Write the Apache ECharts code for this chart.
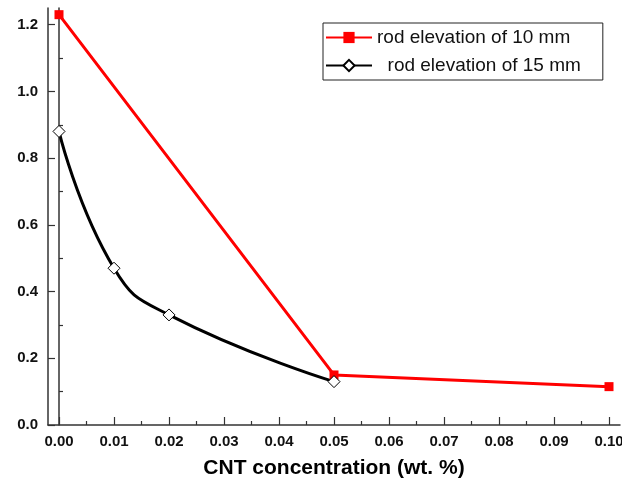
<!DOCTYPE html>
<html>
<head>
<meta charset="utf-8">
<script src="https://cdn.jsdelivr.net/npm/echarts@6/dist/echarts.min.js"></script>
<style>
  html, body { margin: 0; padding: 0; background: #fff; }
  #main { width: 622px; height: 481px; }
</style>
</head>
<body>
<div id="main"></div>
<script>
// x: CNT concentration, y: value for each rod elevation
var x_10mm = [0, 0.05, 0.10];
var y_10mm = [1.23, 0.15, 0.115];
var x_15mm = [0, 0.01, 0.02, 0.05];
var y_15mm = [0.88, 0.47, 0.33, 0.13];

var names = ['rod elevation of 10 mm', '  rod elevation of 15 mm'];

// tick labels
var x_ticks = [0, 0.01, 0.02, 0.03, 0.04, 0.05, 0.06, 0.07, 0.08, 0.09, 0.10];
var x_minor = [0.005, 0.015, 0.025, 0.035, 0.045, 0.055, 0.065, 0.075, 0.085, 0.095];
var y_ticks = [0, 0.2, 0.4, 0.6, 0.8, 1.0, 1.2];
var y_minor = [0.1, 0.3, 0.5, 0.7, 0.9, 1.1];

function pairs(xs, ys) {
    var out = [];
    for (var i = 0; i < xs.length; i++) {
        out.push([xs[i], ys[i]]);
    }
    return out;
}

var fontName = 'Arial, "Liberation Sans", sans-serif';
var axisColor = '#333';

var myChart = echarts.init(document.getElementById('main'));
var option = {
    animation: false,
    grid: {left: 48, right: 2, top: 8, bottom: 56, outerBoundsMode: 'none'},
    legend: {
        orient: 'vertical',
        left: 323,
        top: 23,
        data: names,
        borderColor: '#222',
        borderWidth: 1,
        padding: [5, 22, 5, 2],
        itemWidth: 46,
        itemHeight: 14,
        itemGap: 9,
        textStyle: {fontFamily: fontName, fontSize: 19, color: '#111'}
    },
    xAxis: [
        {
            type: 'value',
            min: -0.002,
            max: 0.102,
            splitLine: {show: false},
            axisLine: {onZero: false, lineStyle: {color: axisColor, width: 1.5}},
            axisTick: {inside: true, length: 8, customValues: x_ticks, lineStyle: {color: axisColor, width: 1.2}},
            axisLabel: {
                customValues: x_ticks,
                margin: 9,
                fontFamily: fontName,
                fontSize: 15,
                fontWeight: 'bold',
                color: '#111',
                formatter: function (v) { return v.toFixed(2); }
            },
            name: 'CNT concentration (wt. %)',
            nameLocation: 'middle',
            nameGap: 33,
            nameTextStyle: {fontFamily: fontName, fontSize: 21, fontWeight: 'bold', color: '#000'}
        },
        {
            type: 'value',
            position: 'bottom',
            min: -0.002,
            max: 0.102,
            splitLine: {show: false},
            axisLine: {show: false},
            axisTick: {inside: true, length: 4, customValues: x_minor, lineStyle: {color: axisColor, width: 1.2}},
            axisLabel: {show: false}
        }
    ],
    yAxis: [
        {
            type: 'value',
            min: 0,
            max: 1.25,
            splitLine: {show: false},
            axisLine: {show: true, onZero: false, lineStyle: {color: axisColor, width: 1.5}},
            axisTick: {show: true, inside: true, length: 7, customValues: y_ticks, lineStyle: {color: axisColor, width: 1.2}},
            axisLabel: {
                customValues: y_ticks,
                margin: 10,
                fontFamily: fontName,
                fontSize: 15,
                fontWeight: 'bold',
                color: '#111',
                formatter: function (v) { return v.toFixed(1); }
            }
        },
        {
            type: 'value',
            position: 'left',
            min: 0,
            max: 1.25,
            splitLine: {show: false},
            axisLine: {show: false},
            axisTick: {show: true, inside: true, length: 4, customValues: y_minor, lineStyle: {color: axisColor, width: 1.2}},
            axisLabel: {show: false}
        },
        {
            type: 'value',
            position: 'right',
            min: 0,
            max: 1.25,
            splitLine: {show: false},
            axisLine: {show: true, lineStyle: {color: axisColor, width: 1.5}},
            axisTick: {show: false},
            axisLabel: {show: false}
        }
    ],
    series: [
        {
            name: names[0],
            type: 'line',
            data: pairs(x_10mm, y_10mm),
            symbol: 'rect',
            symbolSize: 9,
            itemStyle: {color: '#ff0000'},
            lineStyle: {color: '#ff0000', width: 3}
        },
        {
            name: names[1],
            type: 'line',
            data: pairs(x_15mm, y_15mm),
            smooth: 0.5,
            symbol: 'diamond',
            symbolSize: 12,
            itemStyle: {color: '#fff', borderColor: '#000', borderWidth: 1},
            lineStyle: {color: '#000', width: 3}
        }
    ]
};
myChart.setOption(option);
</script>
</body>
</html>
